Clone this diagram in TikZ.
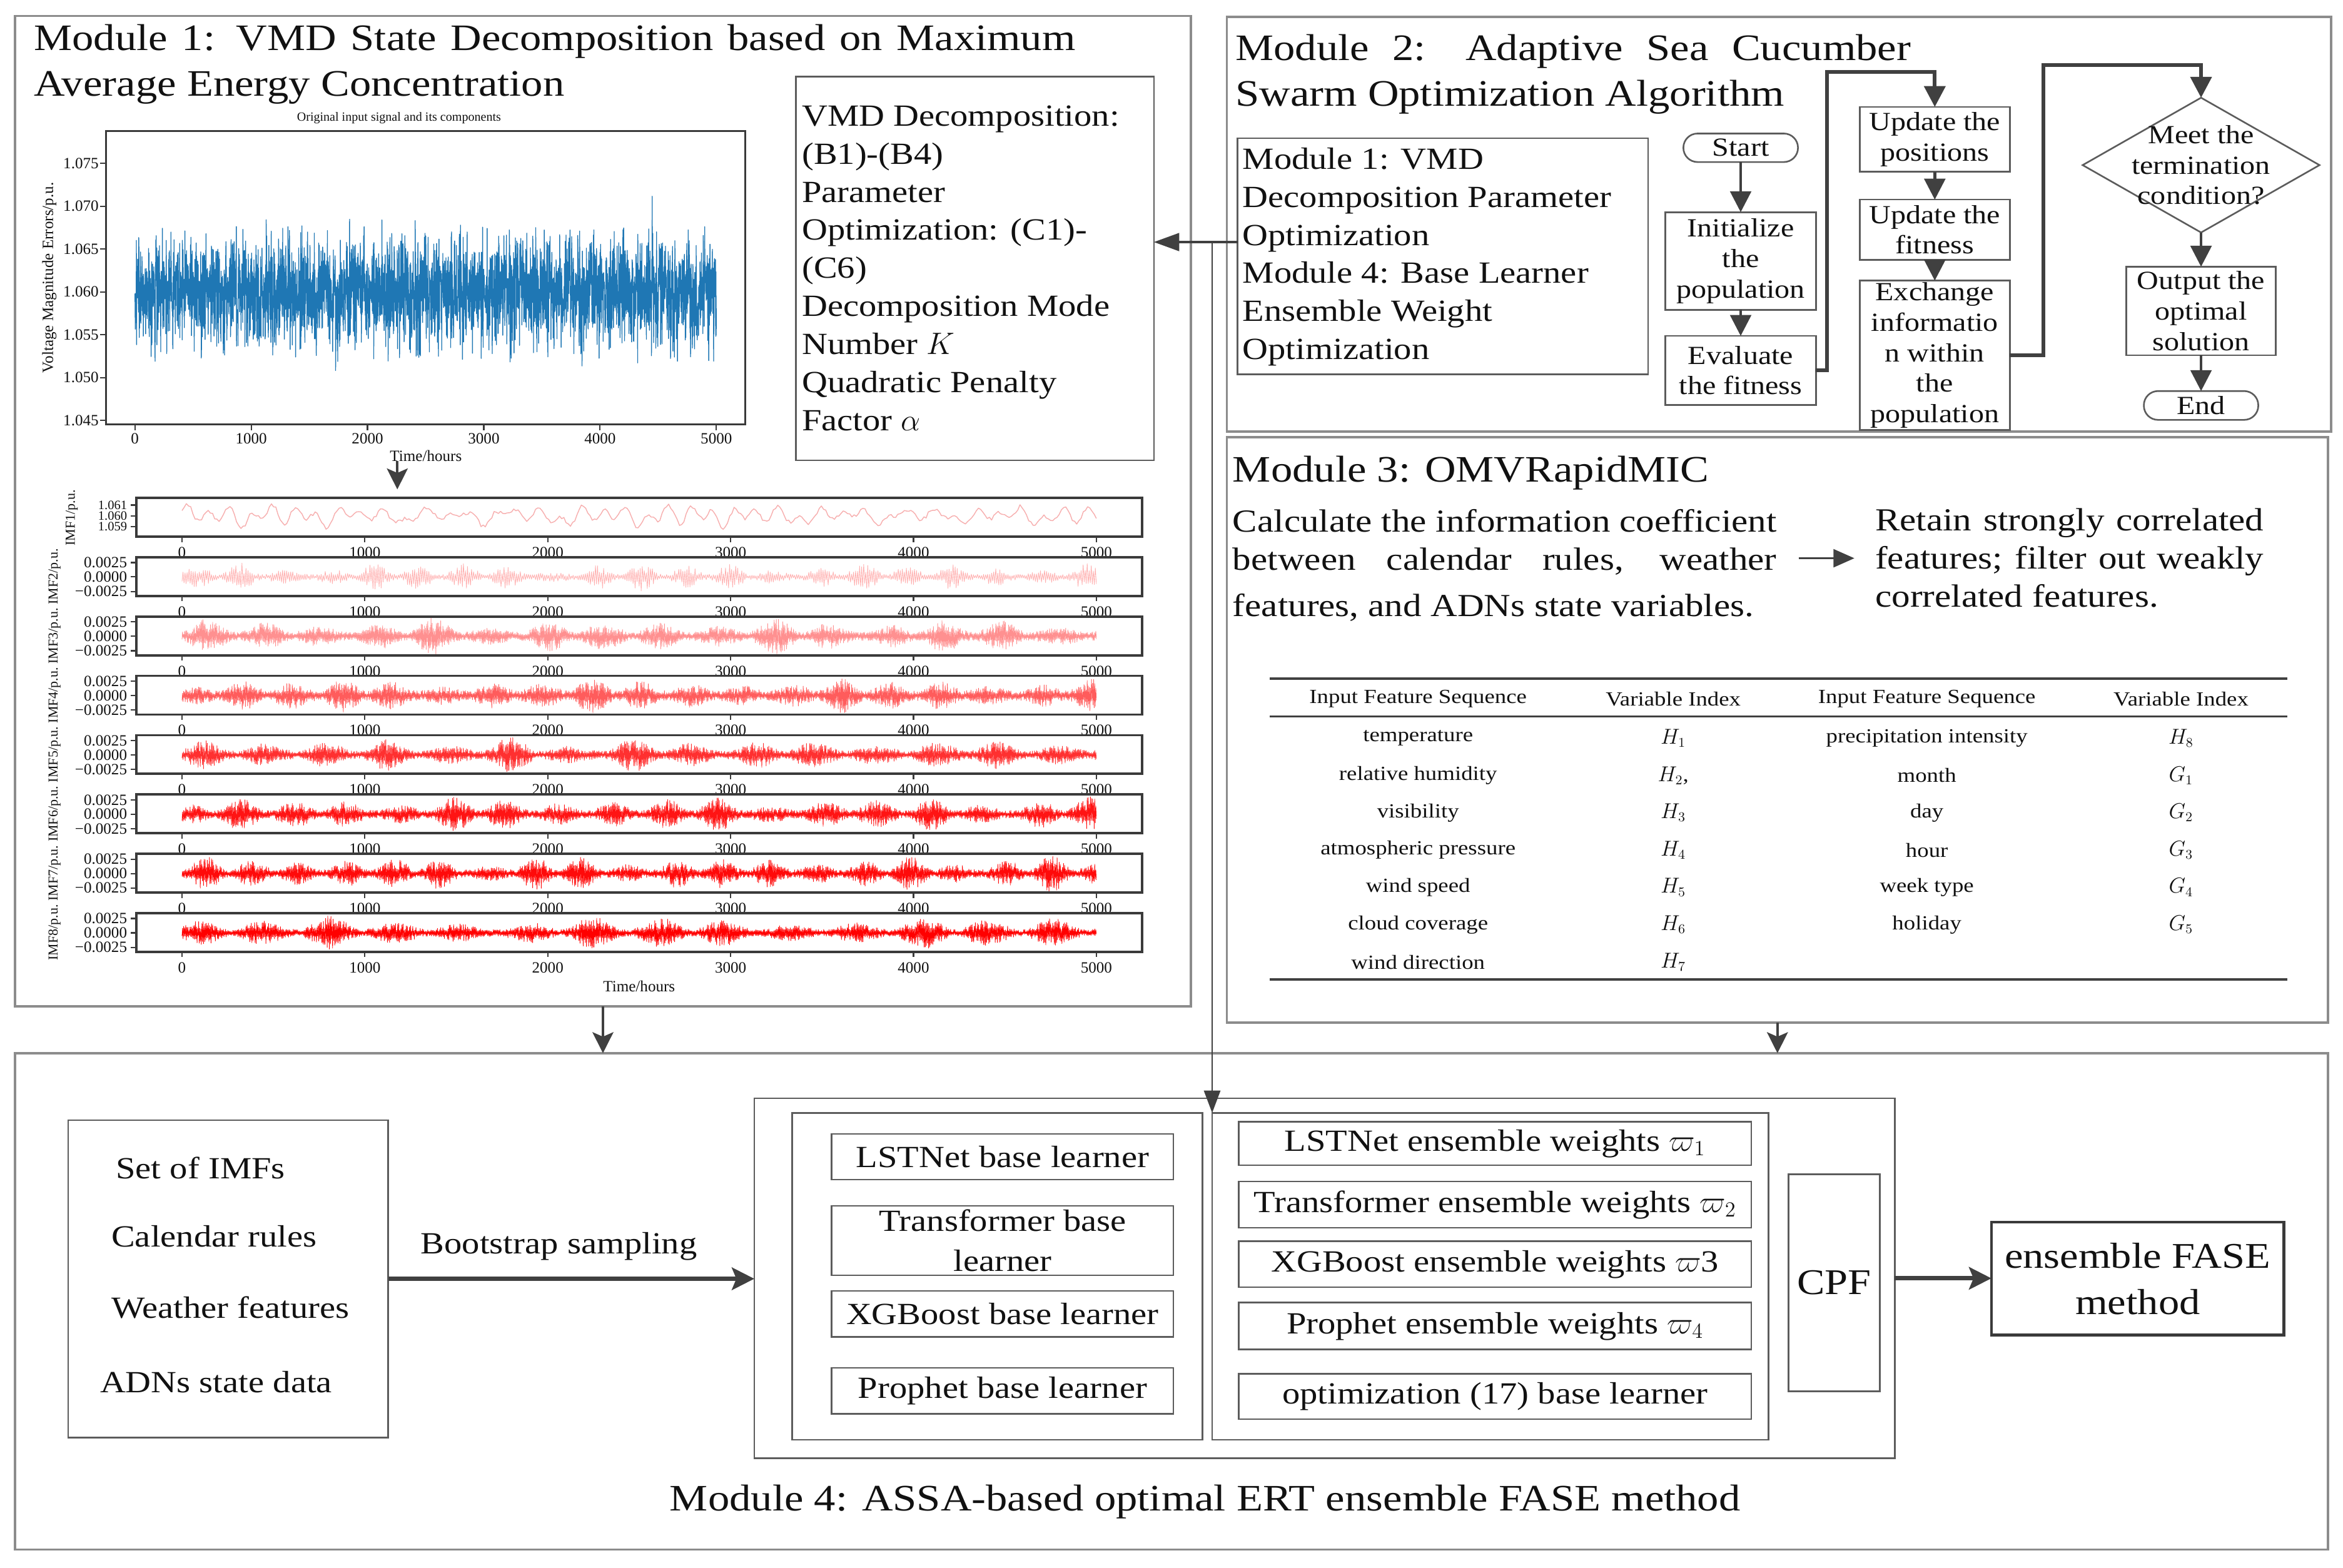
\documentclass[tikz,border=0pt]{standalone}
\usepackage{fontspec}
\setmainfont{Liberation Serif}[FakeStretch=1.15]
\newfontfamily\plotfont{Liberation Serif}
\usetikzlibrary{arrows.meta,shapes.geometric}
\definecolor{modgray}{HTML}{8C8C8C}
\definecolor{boxgray}{HTML}{5C5C5C}
\definecolor{arrgray}{HTML}{404040}
\definecolor{framegray}{HTML}{3A3A3A}
\definecolor{ink}{HTML}{111111}
\definecolor{plotblue}{HTML}{1F77B4}
\definecolor{imfA}{HTML}{F7AFAF}
\definecolor{imfB}{HTML}{FFB0B0}
\definecolor{imfC}{HTML}{FF9090}
\definecolor{imfD}{HTML}{FF5C5C}
\definecolor{imfE}{HTML}{FF3030}
\definecolor{imfF}{HTML}{FF1414}
\definecolor{imfG}{HTML}{FF0A0A}
\definecolor{imfH}{HTML}{FF0000}
\newcommand\FTitle{\fontsize{25}{30.5}\selectfont}
\newcommand\FBody{\fontsize{20.6}{25.5}\selectfont}
\newcommand\FFlow{\fontsize{17.5}{20.4}\selectfont}
\newcommand\FPara{\fontsize{21.5}{26}\selectfont}
\newcommand\FTab{\fontsize{13.4}{15}\selectfont}
\newcommand\FMod{\fontsize{20.6}{26.5}\selectfont}
\newcommand\FBig{\fontsize{24.2}{31}\selectfont}
\newcommand\FTick{\plotfont\fontsize{10.5}{12}\selectfont}
\newcommand\FTickS{\plotfont\fontsize{8.6}{10}\selectfont}
\newcommand\FSmall{\plotfont\fontsize{8.4}{10}\selectfont}
\newcommand\FLab{\plotfont\fontsize{9.2}{10}\selectfont}
\newcommand\FLabV{\plotfont\fontsize{10.5}{12}\selectfont}
\begin{document}
\begin{tikzpicture}[x=1pt,y=-1pt,
  txt/.style={inner sep=0pt, outer sep=0pt, text=ink},
  modbox/.style={draw=modgray, line width=1.6pt, inner sep=0pt, outer sep=0pt},
  ibox/.style={draw=boxgray, line width=1.1pt, inner sep=0pt, outer sep=0pt, text=ink},
  flowbox/.style={ibox, align=center, font=\FFlow},
  conn/.style={draw=arrgray, line width=1.8pt, -{Triangle[length=14pt,width=14pt]}},
  elbow/.style={conn, line width=2.6pt},
  thinarr/.style={draw=arrgray, line width=1.6pt, -{Stealth[length=14pt,width=14pt,inset=3pt]}},
  fatarr/.style={draw=arrgray, line width=2.8pt, -{Stealth[length=15pt,width=15pt,inset=3pt]}},
  pframe/.style={draw=framegray, line width=1.6pt},
  tickmark/.style={draw=framegray, line width=0.9pt},
  ticklab/.style={txt, font=\FTick},
]
\useasboundingbox (0,0) rectangle (1568,1049);
\fill[white] (0,0) rectangle (1568,1049);

% ---------------- module frames
\node[modbox, minimum width=787pt, minimum height=662.7pt] (m1) at (403.5,342.05) {};
\node[modbox, minimum width=739pt, minimum height=277.6pt] (m2) at (1190.5,150) {};
\node[modbox, minimum width=737pt, minimum height=392pt] (m3) at (1189.5,488.5) {};
\node[modbox, minimum width=1548pt, minimum height=332.2pt] (m4) at (784,870.9) {};

% ---------------- titles
\node[txt, font=\FTitle, anchor=base west] (t1a) at (22.8,33.7) {\makebox[697pt][s]{Module 1: VMD State Decomposition based on Maximum}};
\node[txt, font=\FTitle, anchor=base west] (t1b) at (22.8,64.1) {Average Energy Concentration};
\node[txt, font=\FTitle, anchor=base west] (t2a) at (826.8,40.2) {\makebox[452pt][s]{Module 2: Adaptive Sea Cucumber}};
\node[txt, font=\FTitle, anchor=base west] (t2b) at (826.8,71) {Swarm Optimization Algorithm};
\node[txt, font=\FTitle, anchor=base west] (t3) at (825,322.6) {Module 3: OMVRapidMIC};
\node[txt, font=\FTitle, anchor=base] (t4) at (806.5,1010.9) {Module 4: ASSA-based optimal ERT ensemble FASE method};

% ---------------- main signal plot
\pgfmathsetseed{12}
\draw[plotblue, line width=0.55pt, line join=round] plot[samples=3200, domain=0:5000] ({90.3+0.07782*\x}, {195.4-18*(rand+rand+rand)-50*rand*rand*rand*rand*rand*rand});
\draw[pframe, line width=1.3pt] (71,87.6) rectangle (498.6,284);
\foreach \i in {0,...,5}{
  \pgfmathsetmacro\xx{90.3+77.82*\i}
  \pgfmathtruncatemacro\lab{\i*1000}
  \draw[tickmark] (\xx,284) -- (\xx,288);
  \node[ticklab] (mx\i) at (\xx,293.5) {\lab};
}
\foreach \j/\lab in {0/1.045,1/1.050,2/1.055,3/1.060,4/1.065,5/1.070,6/1.075}{
  \pgfmathsetmacro\yy{281.4-28.68*\j}
  \draw[tickmark] (71,\yy) -- (67,\yy);
  \node[ticklab, anchor=east] (my\j) at (66,\yy) {\lab};
}
\node[txt, font=\FSmall] (ptitle) at (267,79) {Original input signal and its components};
\node[txt, font=\FTick] (pxlab) at (285,305) {Time/hours};
\node[txt, font=\FLabV, rotate=90] (pylab) at (33,185.8) {Voltage Magnitude Errors/p.u.};
\coordinate (pa1) at (265.9,308.6);
\coordinate (pa2) at (265.9,327.5);
\draw[thinarr] (pa1) -- (pa2);

% ---------------- IMF plots
\pgfmathsetseed{5}
\draw[imfA, line width=0.6pt, line join=round] plot[samples=420, domain=0:100] ({121.8+6.119*\x}, {345.2-(3.4*sin(150*\x+20)+2.7*sin(83*\x+50)+1.9*sin(41*\x+10)+1.4*sin(157*\x)+1.3*rand)});
\foreach \k/\col/\ba/\pk/\ca/\pa/\cb/\pb/\nn/\lw in {
  2/imfB/1.8/9/37/30/7/80/900/0.35,
  3/imfC/2.8/10/29/10/9/40/1700/0.35,
  4/imfD/3.3/9/33/50/6/0/1700/0.35,
  5/imfE/2.6/9.5/27/20/11/60/1700/0.35,
  6/imfF/2.6/10/31/70/8/10/1700/0.35,
  7/imfG/2.6/10/35/0/10/35/1700/0.35,
  8/imfH/2.3/9.5/25/45/5/20/1700/0.35}{
  \pgfmathsetmacro\imfT{333.2+39.7*(\k-1)}
  \pgfmathsetmacro\imfC{\imfT+13.2}
  \pgfmathtruncatemacro\nsp{\nn+1}
  \draw[\col, line width=\lw pt, line join=round] plot[samples=\nsp, domain=0:\nn] ({121.8+611.9*(\x/\nn)}, {\imfC+(1-2*mod(round(\x),2))*(\ba+\pk*(abs(sin(\ca*(\x/\nn*100)+\pa)))^2*(0.3+0.7*abs(sin(\cb*(\x/\nn*100)+\pb)))*(0.55+0.45*abs(sin(13.7*(\x/\nn*100)+2*\pb))))*(0.62+0.38*rand)});
}
\foreach \k in {1,...,8}{
  \pgfmathsetmacro\imfT{333.2+39.7*(\k-1)}
  \draw[pframe] (91.3,\imfT) rectangle (764.2,{\imfT+25.9});
  \foreach \i in {0,...,5}{
    \pgfmathsetmacro\xx{121.8+122.38*\i}
    \pgfmathtruncatemacro\lab{\i*1000}
    \draw[tickmark] (\xx,{\imfT+25.9}) -- (\xx,{\imfT+29.5});
    \node[ticklab] (ix\k-\i) at (\xx,{\imfT+36.5}) {\lab};
  }
}
\foreach \k in {2,...,8}{
  \pgfmathsetmacro\imfT{333.2+39.7*(\k-1)}
  \foreach \d/\lab [count=\n] in {3.6/0.0025,13.2/0.0000,22.9/\textminus0.0025}{
    \draw[tickmark] (87.5,{\imfT+\d}) -- (91.3,{\imfT+\d});
    \node[ticklab, anchor=east] (iy\k-\n) at (85,{\imfT+\d}) {\lab};
  }
  \node[txt, font=\FLab, rotate=90] (il\k) at (36.5,{\imfT+13}) {IMF\k/p.u.};
}
\foreach \d/\lab [count=\n] in {4.8/1.061,12/1.060,19.2/1.059}{
  \draw[tickmark] (87.5,{333.2+\d}) -- (91.3,{333.2+\d});
  \node[txt, font=\FTickS, anchor=east] (iy1-\n) at (85,{333.2+\d}) {\lab};
}
\node[txt, font=\FLab, rotate=90] (il1) at (48,346.5) {IMF1/p.u.};
\node[txt, font=\FTick] (ixlab) at (427.7,660) {Time/hours};

% ---------------- VMD box
\node[ibox, minimum width=239.5pt, minimum height=256.8pt] (vmd) at (652.45,179.6) {};
\node[txt, font=\FBody, align=left, anchor=west] (vmdt) at (536.7,179.5) {VMD Decomposition:\\(B1)-(B4)\\Parameter\\Optimization: (C1)-\\(C6)\\Decomposition Mode\\Number $K$\\Quadratic Penalty\\Factor $\alpha$};

% ---------------- Module 2
\node[ibox, minimum width=274.8pt, minimum height=157.9pt] (m2in) at (965.6,171.45) {};
\node[txt, font=\FBody, align=left, anchor=west] (m2t) at (831.6,171.9) {Module 1: VMD\\Decomposition Parameter\\Optimization\\Module 4: Base Learner\\Ensemble Weight\\Optimization};

\node[ibox, font=\FFlow, rounded corners=9.5pt, minimum width=76.7pt, minimum height=19.1pt] (start) at (1164.9,98.9) {Start};
\node[flowbox, minimum width=100.7pt, minimum height=65.4pt] (init) at (1164.9,174.7) {Initialize\\the\\population};
\node[flowbox, minimum width=100.7pt, minimum height=46.2pt] (eval) at (1164.9,247.9) {Evaluate\\the fitness};
\node[flowbox, minimum width=100.4pt, minimum height=43.3pt] (pos) at (1294.8,93.25) {Update the\\positions};
\node[flowbox, minimum width=100.4pt, minimum height=40.2pt] (fitn) at (1294.8,153.7) {Update the\\fitness};
\node[flowbox, minimum width=100.4pt, minimum height=100pt] (exch) at (1294.8,237.8) {Exchange\\informatio\\n within\\the\\population};
\node[diamond, draw=boxgray, line width=1.1pt, inner sep=0pt, outer sep=0pt, minimum width=158.5pt, minimum height=90.2pt] (dia) at (1473,110.5) {};
\node[txt, font=\FFlow, align=center] (diat) at (dia.center) {Meet the\\termination\\condition?};
\node[flowbox, minimum width=100pt, minimum height=59.2pt] (outp) at (1473,208.1) {Output the\\optimal\\solution};
\node[ibox, font=\FFlow, rounded corners=9.5pt, minimum width=76.6pt, minimum height=19.3pt] (endn) at (1473,271.35) {End};

\draw[conn] (start.south) -- (init.north);
\draw[conn] (init.south) -- (eval.north);
\draw[conn] (pos.south) -- (fitn.north);
\draw[conn] (fitn.south) -- (exch.north);
\draw[conn] (dia.south) -- (outp.north);
\draw[conn] (outp.south) -- (endn.north);
\coordinate (e1) at (1222.7,48);
\coordinate (e2) at (1367.6,43.4);
\draw[elbow] (eval.east) -| (e1) -| (pos.north);
\draw[elbow] (exch.east) -| (e2) -| (dia.north);

% link module 2 -> module 1 and module 4
\coordinate (jn) at (811.2,162);
\draw[draw=arrgray, line width=1.3pt, -{Triangle[length=17pt,width=12pt]}] (m2in.west |- jn) -- (vmd.east |- jn);

% ---------------- Module 3
\node[txt, font=\FPara, anchor=base west] (p1a) at (825,355.8) {\makebox[364pt][s]{Calculate the information coefficient}};
\node[txt, font=\FPara, anchor=base west] (p1b) at (825,381.4) {\makebox[364pt][s]{between calendar rules, weather}};
\node[txt, font=\FPara, anchor=base west] (p1c) at (825,412.7) {features, and ADNs state variables.};
\node[txt, font=\FPara, anchor=base west] (p2a) at (1255,355.3) {\makebox[260pt][s]{Retain strongly correlated}};
\node[txt, font=\FPara, anchor=base west] (p2b) at (1255,380.9) {\makebox[260pt][s]{features; filter out weakly}};
\node[txt, font=\FPara, anchor=base west] (p2c) at (1255,406.3) {correlated features.};
\coordinate (a3s) at (1203.7,373.6);
\coordinate (a3e) at (1241,373.6);
\draw[draw=arrgray, line width=1.5pt, -{Triangle[length=14pt,width=12pt]}] (a3s) -- (a3e);

\draw[draw=arrgray, line width=1.6pt] (849.8,454.2) -- (1530.7,454.2);
\draw[draw=arrgray, line width=1.2pt] (849.8,479.6) -- (1530.7,479.6);
\draw[draw=arrgray, line width=1.6pt] (849.8,655.4) -- (1530.7,655.4);
\node[txt, font=\FTab] (h1) at (949,467.8) {Input Feature Sequence};
\node[txt, font=\FTab] (h2) at (1119.8,467.8) {Variable Index};
\node[txt, font=\FTab] (h3) at (1289.5,467.8) {Input Feature Sequence};
\node[txt, font=\FTab] (h4) at (1459.6,467.8) {Variable Index};
\foreach \nm/\vr [count=\r] in {temperature/{$H_{1}$}, relative humidity/{$H_{2}$,}, visibility/{$H_{3}$}, atmospheric pressure/{$H_{4}$}, wind speed/{$H_{5}$}, cloud coverage/{$H_{6}$}, wind direction/{$H_{7}$}}{
  \pgfmathsetmacro\yy{494+24.97*(\r-1)}
  \node[txt, font=\FTab] (ta\r) at (949,\yy) {\nm};
  \node[txt, font=\FTab] (tb\r) at (1119.8,\yy) {\vr};
}
\foreach \nm/\vr [count=\r] in {precipitation intensity/{$H_{8}$}, month/{$G_{1}$}, day/{$G_{2}$}, hour/{$G_{3}$}, week type/{$G_{4}$}, holiday/{$G_{5}$}}{
  \pgfmathsetmacro\yy{494+24.97*(\r-1)}
  \node[txt, font=\FTab] (tc\r) at (1289.5,\yy) {\nm};
  \node[txt, font=\FTab] (td\r) at (1459.6,\yy) {\vr};
}

% ---------------- Module 4
\node[ibox, minimum width=214.2pt, minimum height=212.4pt] (inbox) at (152.7,855.8) {};
\node[txt, font=\FMod, anchor=base west] (in1) at (77.6,789) {Set of IMFs};
\node[txt, font=\FMod, anchor=base west] (in2) at (74.6,834.3) {Calendar rules};
\node[txt, font=\FMod, anchor=base west] (in3) at (74.6,882) {Weather features};
\node[txt, font=\FMod, anchor=base west] (in4) at (67,931.8) {ADNs state data};
\node[txt, font=\FMod, anchor=base west] (boot) at (281.6,839.1) {Bootstrap sampling};

\node[ibox, minimum width=763.2pt, minimum height=241pt] (big) at (886.4,855.5) {};
\node[ibox, minimum width=274.5pt, minimum height=218.8pt] (lbox) at (667.45,854.2) {};
\node[ibox, minimum width=372.2pt, minimum height=218.8pt] (wbox) at (997.3,854.2) {};

\node[ibox, font=\FMod, align=center, minimum width=228.7pt, minimum height=30.7pt] (L1) at (670.95,774.15) {LSTNet base learner};
\node[ibox, font=\FMod, align=center, minimum width=228.7pt, minimum height=46.5pt] (L2) at (670.95,830.25) {Transformer base\\learner};
\node[ibox, font=\FMod, align=center, minimum width=228.7pt, minimum height=30.8pt] (L3) at (670.95,879.4) {XGBoost base learner};
\node[ibox, font=\FMod, align=center, minimum width=228.7pt, minimum height=30.9pt] (L4) at (670.95,930.85) {Prophet base learner};

\node[ibox, font=\FMod, minimum width=343pt, minimum height=29pt] (W1) at (1000.5,765.3) {LSTNet ensemble weights $\varpi_{1}$};
\node[ibox, font=\FMod, minimum width=343pt, minimum height=31pt] (W2) at (1000.5,806.2) {Transformer ensemble weights $\varpi_{2}$};
\node[ibox, font=\FMod, minimum width=343pt, minimum height=30.7pt] (W3) at (1000.5,846.05) {XGBoost ensemble weights $\varpi$3};
\node[ibox, font=\FMod, minimum width=343pt, minimum height=31.4pt] (W4) at (1000.5,887.5) {Prophet ensemble weights $\varpi_{4}$};
\node[ibox, font=\FMod, minimum width=343pt, minimum height=30.2pt] (W5) at (1000.5,934.6) {optimization (17) base learner};

\node[ibox, font=\FBig, minimum width=61pt, minimum height=145pt] (cpf) at (1227.5,858.5) {CPF};
\node[ibox, draw=framegray, line width=2pt, font=\FBig, align=center, minimum width=195.8pt, minimum height=75.7pt] (fase) at (1430.6,855.75) {ensemble FASE\\method};

\draw[fatarr] (inbox.east) -- (inbox.east -| big.west);
\draw[fatarr] (big.east) -- (big.east -| fase.west);

% ---------------- inter-module arrows
\draw[thinarr] (m1.south) -- (m1.south |- m4.north);
\draw[thinarr] (m3.south) -- (m3.south |- m4.north);
\draw[draw=arrgray, line width=1.1pt, -{Triangle[length=15pt,width=11pt]}] (jn) -- (jn |- wbox.north);
\end{tikzpicture}
\end{document}
